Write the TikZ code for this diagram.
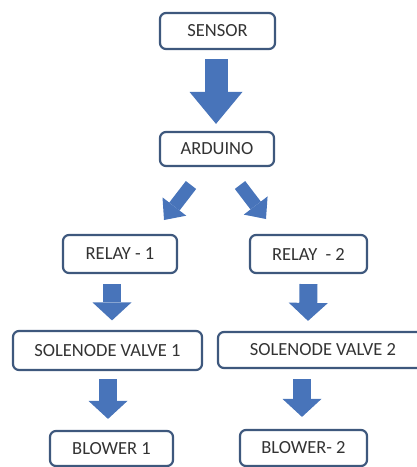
\documentclass[tikz,border=0pt]{standalone}
\usepackage{fontspec}
\setmainfont{Carlito}
\usetikzlibrary{arrows.meta}
\definecolor{boxline}{HTML}{3E587D}
\definecolor{arrowblue}{HTML}{4874BA}
\definecolor{txtgray}{HTML}{333333}
\begin{document}
\begin{tikzpicture}[x=1pt,y=-1pt,
  box/.style={draw=boxline, line width=2.2pt, rounded corners=6pt, fill=white,
    inner sep=0pt, text=txtgray, font=\fontsize{18.5}{21}\selectfont},
  bigarrow/.style={draw=arrowblue, line width=23pt,
    -{Triangle[length=32pt,width=53pt,line width=0pt]}},
  midarrow/.style={draw=arrowblue, line width=18pt,
    -{Triangle[length=18pt,width=39pt,line width=0pt]}},
  diagarrow/.style={draw=arrowblue, line width=13pt,
    -{Triangle[length=17pt,width=30pt,line width=0pt]}}]
\useasboundingbox (0,0) rectangle (417,467);
\node[box, minimum width=115pt, minimum height=36pt] (sensor) at (217.5,31) {SENSOR};
\node[box, minimum width=114pt, minimum height=34pt] (arduino) at (217,149) {ARDUINO};
\node[box, minimum width=114pt, minimum height=38pt] (relay1) at (120,254) {RELAY - 1};
\node[box, minimum width=117pt, minimum height=38pt] (relay2) at (308.5,254) {RELAY \ - 2};
\node[box, minimum width=189pt, minimum height=39pt] (sv1) at (107.5,350.5) {SOLENODE VALVE 1};
\node[box, minimum width=210pt, minimum height=36pt] (sv2) at (323,350) {SOLENODE VALVE 2};
\node[box, minimum width=123pt, minimum height=35pt] (bl1) at (111.5,448.5) {BLOWER 1};
\node[box, minimum width=127pt, minimum height=36pt] (bl2) at (303.5,448) {BLOWER- 2};
% arrows
\draw[bigarrow] ([xshift=-1.5pt,yshift=-9pt]sensor.south) -- ([xshift=-1pt,yshift=7pt]arduino.north);
\coordinate (dlt) at (191,185);
\coordinate (dlh) at (164,220);
\coordinate (drt) at (240,185);
\coordinate (drh) at (266,219);
\draw[diagarrow] (dlt) -- (dlh);
\draw[diagarrow] (drt) -- (drh);
\draw[midarrow] ([xshift=-8pt,yshift=-10pt]relay1.south) -- ([xshift=4.5pt,yshift=9.5pt]sv1.north);
\draw[midarrow] ([xshift=0pt,yshift=-10pt]relay2.south) -- ([xshift=-15pt,yshift=10pt]sv2.north);
\draw[midarrow] ([xshift=0.5pt,yshift=-8pt]sv1.south) -- ([xshift=-3.5pt,yshift=11pt]bl1.north);
\draw[midarrow] ([xshift=-21pt,yshift=-10pt]sv2.south) -- ([xshift=-1.5pt,yshift=12pt]bl2.north);
\end{tikzpicture}
\end{document}
